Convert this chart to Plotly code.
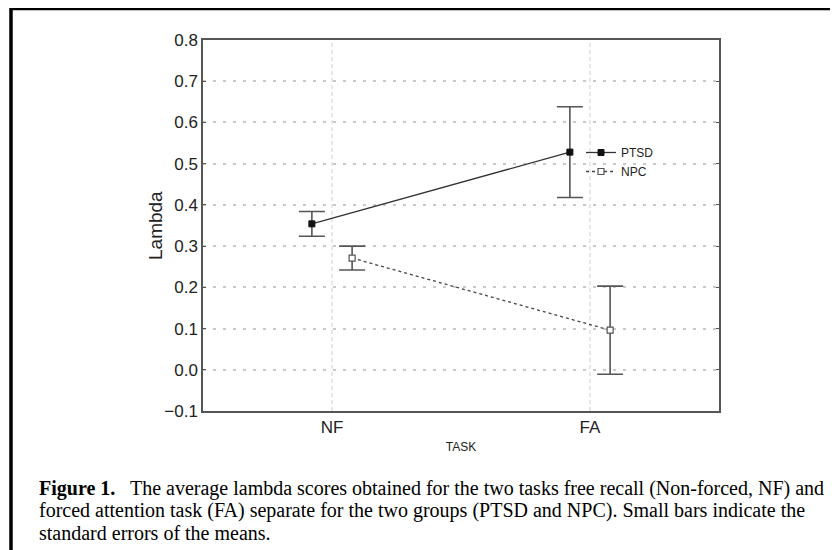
import plotly.graph_objects as go

# ---- data ----
tasks = ["NF", "FA"]
groups = ["PTSD", "NPC"]
ptsd_mean = [0.354, 0.528]
ptsd_se = [0.030, 0.110]
npc_mean = [0.271, 0.096]
npc_se = [0.029, 0.107]
y_ticks = [-0.1, 0.0, 0.1, 0.2, 0.3, 0.4, 0.5, 0.6, 0.7, 0.8]

caption_lines = [
    "<b>Figure 1.</b>   The average lambda scores obtained for the two tasks free recall (Non-forced, NF) and",
    "forced attention task (FA) separate for the two groups (PTSD and NPC). Small bars indicate the",
    "standard errors of the means.",
]

OFFSET = 0.078
base = list(range(len(tasks)))
x_ptsd = [b - OFFSET for b in base]
x_npc = [b + OFFSET for b in base]

sans = "Liberation Sans, Arial, Helvetica, sans-serif"
serif = "Liberation Serif, Times New Roman, serif"
err_col = "#555555"

# page has an 8px body margin -> figure coordinates = page coordinates - 8
SH = 8
FW, FH = 838 - SH, 550 - SH
L, R, T, B = 203 - SH, 719 - SH, 40 - SH, 411 - SH
W, H = R - L, B - T


def px_x(p):
    return (p - SH - L) / W


def px_y(p):
    return (B - (p - SH)) / H


fig = go.Figure()
fig.add_trace(go.Scatter(
    x=x_ptsd, y=ptsd_mean, name=groups[0], mode="lines+markers",
    line=dict(color="#333333", width=1.3),
    marker=dict(symbol="square", size=6, color="#111111", line=dict(color="#111111", width=1)),
    error_y=dict(type="data", array=ptsd_se, visible=True, color=err_col, thickness=1.6, width=13),
))
fig.add_trace(go.Scatter(
    x=x_npc, y=npc_mean, name=groups[1], mode="lines+markers",
    line=dict(color="#444444", width=1.3, dash="dot"),
    marker=dict(symbol="square", size=6, color="white", line=dict(color="#555555", width=1.2)),
    error_y=dict(type="data", array=npc_se, visible=True, color=err_col, thickness=1.6, width=13),
))

shapes = [
    dict(type="line", xref="x", yref="paper", x0=i, x1=i, y0=0, y1=1,
         line=dict(color="#dadada", width=1.3, dash="4px,3px"), layer="below")
    for i in base
]
# outer document frame (top and left visible)
shapes.append(dict(type="rect", xref="paper", yref="paper",
                   x0=px_x(11), x1=px_x(870), y0=px_y(580), y1=px_y(8.5),
                   line=dict(color="black", width=3.5), fillcolor="rgba(0,0,0,0)"))

annotations = []
for i, line in enumerate(caption_lines):
    annotations.append(dict(
        text=line, xref="paper", yref="paper", x=px_x(37), y=px_y(488 + i * 22.5),
        xanchor="left", yanchor="middle", showarrow=False, align="left",
        font=dict(family=serif, size=20, color="black"),
    ))
# y-axis title
annotations.append(dict(
    text="Lambda", xref="paper", yref="paper", x=px_x(155), y=px_y(226),
    xanchor="center", yanchor="middle", textangle=-90, showarrow=False,
    font=dict(family=sans, size=19, color="#222222"),
))

fig.update_layout(
    width=FW, height=FH,
    margin=dict(l=L, r=FW - R, t=T, b=FH - B),
    paper_bgcolor="white", plot_bgcolor="white",
    font=dict(family=sans, color="#222222"),
    showlegend=True,
    legend=dict(x=px_x(581), y=px_y(138), xanchor="left", yanchor="top",
                bgcolor="rgba(0,0,0,0)", font=dict(size=12, family=sans),
                itemwidth=30, tracegroupgap=0),
    shapes=shapes,
    annotations=annotations,
)
fig.update_xaxes(
    range=[-0.5, 1.5], tickvals=base, ticktext=tasks,
    showgrid=False, zeroline=False,
    showline=True, linecolor="#555555", linewidth=1.5, mirror=True,
    ticks="", tickfont=dict(size=17, family=sans),
    title=dict(text="TASK", font=dict(size=12, family=sans), standoff=6),
)
fig.update_yaxes(
    range=[-0.1, 0.8], tickvals=y_ticks, tickformat=".1f",
    showgrid=True, gridcolor="#c8c8c8", griddash="3px,7px", gridwidth=1.5,
    zeroline=False,
    showline=True, linecolor="#555555", linewidth=1.5, mirror="ticks",
    ticks="inside", ticklen=3, tickcolor="#555555",
    tickfont=dict(size=17, family=sans),
)

fig.write_html("out.html")
